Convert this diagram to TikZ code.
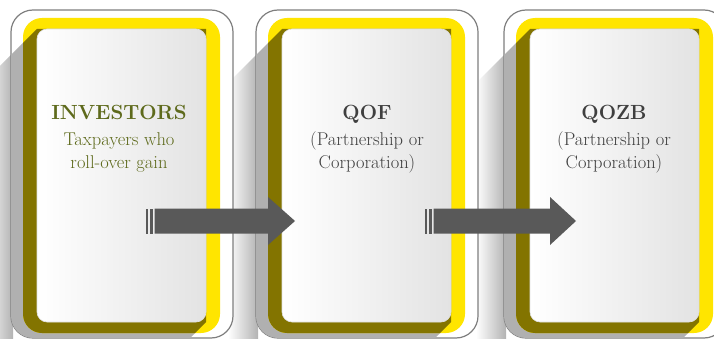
\documentclass[tikz,border=0pt]{standalone}
\definecolor{ylw}{HTML}{FFE500}
\definecolor{olv}{HTML}{837400}
\definecolor{gapgray}{HTML}{B0B0B0}
\definecolor{framegray}{HTML}{7F7F7F}
\definecolor{txtolive}{HTML}{5E6A1C}
\definecolor{txtgray}{HTML}{3F3F3F}
\definecolor{arrowgray}{HTML}{595959}
\definecolor{cardgray}{HTML}{E3E3E3}
\tikzset{
  titletext/.style={anchor=base, inner sep=0pt, font=\fontsize{20.5}{24}\selectfont\bfseries},
  subtext/.style={anchor=base, inner sep=0pt, font=\fontsize{18.5}{23}\selectfont},
  arrowfill/.style={fill=arrowgray},
}
\newcommand{\shadowpoly}[1]{(#1,29) -- (#1+169,29) -- (#1+169,322) -- (#1+169-70,322+70) -- (#1-70,322+70) -- (#1-70,29+70) -- cycle}
\begin{document}
\begin{tikzpicture}[x=1pt,y=-1pt]
\useasboundingbox (0,0) rectangle (714,339);
\fill[white] (0,0) rectangle (714,339);
% outside long shadows
\foreach \W in {37,282,530}{
  \begin{scope}
    \clip \shadowpoly{\W};
    \shade[left color=white, right color=black!30] (\W-54,0) rectangle (\W-24,360);
  \end{scope}
}
% cards
\foreach \W in {37,282,530}{
  \filldraw[fill=white, draw=framegray, line width=1.2pt, rounded corners=22pt] (\W-26,10) rectangle (\W+196,338);
  \begin{scope}
    \clip[rounded corners=22pt] (\W-26,10) rectangle (\W+196,338);
    \fill[gapgray] \shadowpoly{\W};
  \end{scope}
  \fill[ylw, rounded corners=19pt] (\W-14,18) rectangle (\W+183,333);
  \begin{scope}
    \clip[rounded corners=19pt] (\W-14,18) rectangle (\W+183,333);
    \fill[olv] \shadowpoly{\W};
  \end{scope}
  \shade[left color=white, right color=cardgray, rounded corners=10pt] (\W,29) rectangle (\W+169,322);
  \draw[black!12, line width=0.6pt, rounded corners=10pt] (\W,29) rectangle (\W+169,322);
}
% texts
\node[titletext, text=txtolive] (t1) at (119,120) {INVESTORS};
\node[subtext, text=txtolive] (s1a) at (119,146) {Taxpayers who};
\node[subtext, text=txtolive] (s1b) at (119,168) {roll-over gain};
\node[titletext, text=txtgray] (t2) at (367,120) {QOF};
\node[subtext, text=txtgray] (s2a) at (367,146) {(Partnership or};
\node[subtext, text=txtgray] (s2b) at (367,168) {Corporation)};
\node[titletext, text=txtgray] (t3) at (614,120) {QOZB};
\node[subtext, text=txtgray] (s3a) at (614,146) {(Partnership or};
\node[subtext, text=txtgray] (s3b) at (614,168) {Corporation)};
% arrows
\coordinate (a1s) at (146,221);
\coordinate (a1h) at (268,221);
\coordinate (a1t) at (295,221);
\coordinate (a2s) at (425,221);
\coordinate (a2h) at (550,221);
\coordinate (a2t) at (576,221);
\foreach \s/\h/\t in {a1s/a1h/a1t, a2s/a2h/a2t}{
  \fill[arrowfill] ([yshift=-12.5pt]\s) rectangle ([xshift=2.3pt,yshift=12.5pt]\s);
  \fill[arrowfill] ([xshift=4.3pt,yshift=-12.5pt]\s) rectangle ([xshift=6.6pt,yshift=12.5pt]\s);
  \fill[arrowfill] ([xshift=8.5pt,yshift=-12.5pt]\s) -- ([yshift=-12.5pt]\h) -- ([yshift=-24pt]\h) -- (\t) -- ([yshift=24pt]\h) -- ([yshift=12.5pt]\h) -- ([xshift=8.5pt,yshift=12.5pt]\s) -- cycle;
}
\end{tikzpicture}
\end{document}
